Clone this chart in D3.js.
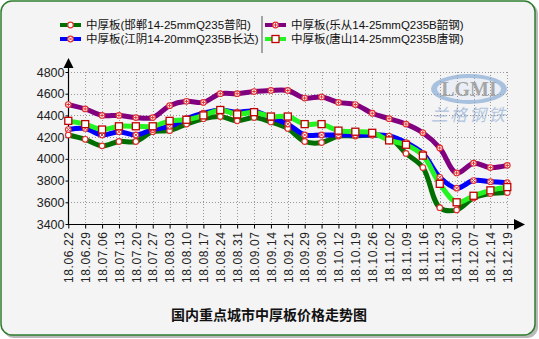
<!DOCTYPE html>
<html><head><meta charset="utf-8">
<script src="https://cdn.jsdelivr.net/npm/d3@7"></script>
<style>
html,body{margin:0;padding:0;background:#fff;}
svg{display:block;font-family:"Liberation Sans",Arial,"Noto Sans CJK SC",sans-serif;}
</style></head>
<body>
<svg id="c" width="539" height="339"></svg>
<script>
const categories = ["18.06.22","18.06.29","18.07.06","18.07.13","18.07.20","18.07.27","18.08.03","18.08.10","18.08.17","18.08.24","18.08.31","18.09.07","18.09.14","18.09.21","18.09.29","18.09.30","18.10.12","18.10.19","18.10.26","18.11.02","18.11.09","18.11.16","18.11.23","18.11.30","18.12.07","18.12.14","18.12.19"];
const handan  = [4220,4180,4120,4160,4160,4250,4260,4320,4370,4390,4350,4380,4340,4280,4160,4150,4210,4210,4220,4200,4050,3920,3550,3530,3640,3680,3690];
const jiangyin= [4270,4280,4220,4250,4220,4270,4300,4370,4420,4450,4430,4440,4380,4320,4220,4220,4220,4220,4220,4210,4150,4050,3830,3730,3800,3790,3780];
const lecong  = [4500,4460,4400,4400,4380,4380,4490,4530,4520,4600,4600,4620,4630,4630,4560,4570,4520,4500,4420,4370,4320,4240,4100,3870,3960,3920,3940];
const tangshan= [4350,4320,4270,4300,4300,4300,4350,4360,4400,4450,4410,4430,4390,4390,4320,4320,4260,4250,4240,4170,4130,4030,3770,3600,3660,3710,3740];
const yTicks = [3400,3600,3800,4000,4200,4400,4600,4800];
const seriesNames = ["中厚板(邯郸14-25mmQ235普阳)","中厚板(江阴14-20mmQ235B长达)","中厚板(乐从14-25mmQ235B韶钢)","中厚板(唐山14-25mmQ235B唐钢)"];
const title = "国内重点城市中厚板价格走势图";

const series = [
  {name:seriesNames[0], values:handan,   color:"#006e00", marker:"circle"},
  {name:seriesNames[1], values:jiangyin, color:"#0000ff", marker:"x"},
  {name:seriesNames[2], values:lecong,   color:"#800080", marker:"plus"},
  {name:seriesNames[3], values:tangshan, color:"#22f522", marker:"square"}
];

const svg = d3.select("#c");
// frame with shadow
svg.append("rect").attr("x",3).attr("y",3).attr("width",535).attr("height",335).attr("rx",11).attr("fill","#8a8a8a").attr("opacity",0.6);
svg.append("rect").attr("x",1).attr("y",1).attr("width",534).attr("height",334).attr("rx",11)
  .attr("fill","#f4f4f4").attr("stroke","#2e7d2e").attr("stroke-width",1.5);

const x = d3.scalePoint().domain(categories).range([68.3,507.3]).padding(0);
const y = d3.scaleLinear().domain([3400,4800]).range([224,72]);

// watermark
const wm = svg.append("g").attr("opacity",0.75);
wm.append("ellipse").attr("cx",469).attr("cy",89).attr("rx",38).attr("ry",15).attr("fill","#8fb0d8");
wm.append("ellipse").attr("cx",469).attr("cy",89).attr("rx",32).attr("ry",11).attr("fill","#e8eef6");
wm.append("text").attr("x",469).attr("y",96).attr("text-anchor","middle").attr("font-size",20).attr("font-weight","bold")
  .attr("fill","#8c8c8c").attr("font-family","Liberation Serif,serif").text("LGMI");
wm.append("text").attr("x",469).attr("y",121).attr("text-anchor","middle").attr("font-size",17).attr("font-style","italic")
  .attr("fill","#9ab4d8").attr("font-family","Noto Sans CJK SC").attr("letter-spacing",2).text("兰格钢铁");

// grid
const grid = svg.append("g").attr("stroke","#9a9a9a").attr("stroke-width",1).attr("stroke-dasharray","1,2");
grid.selectAll("line.h").data(yTicks.slice(1)).join("line")
  .attr("x1",68).attr("x2",x(categories[categories.length-1])).attr("y1",d=>Math.round(y(d))+0.5).attr("y2",d=>Math.round(y(d))+0.5);
grid.selectAll("line.v").data(categories.slice(1)).join("line")
  .attr("x1",d=>Math.round(x(d))+0.5).attr("x2",d=>Math.round(x(d))+0.5).attr("y1",y(4800)).attr("y2",y(3400));

// axes
const yAxis = d3.axisLeft(y).tickValues(yTicks).tickSize(3).tickPadding(1).tickFormat(d3.format("d"));
const gy = svg.append("g").attr("transform","translate(68.5,0)").call(yAxis);
gy.select(".domain").remove();
gy.selectAll("text").attr("font-size",12.5).attr("fill","#222").attr("font-family","Liberation Sans,Arial");
gy.selectAll("line").attr("stroke","#000");
svg.append("line").attr("x1",68.5).attr("x2",68.5).attr("y1",66).attr("y2",224.5).attr("stroke","#000").attr("stroke-width",1.2);
svg.append("path").attr("d","M68.5,58 L63.5,68 L73.5,68 Z").attr("fill","#000");

const xAxis = d3.axisBottom(x).tickSize(4).tickSizeOuter(0).tickPadding(3);
const gx = svg.append("g").attr("transform","translate(0,224.5)").call(xAxis);
gx.select(".domain").remove();
gx.selectAll("line").attr("stroke","#000");
gx.selectAll("text").attr("font-size",12).attr("fill","#222").attr("letter-spacing",0.6)
  .attr("text-anchor","end").attr("transform","rotate(-90)").attr("x",-7).attr("y",0).attr("dy","0.35em");
svg.append("line").attr("x1",68).attr("x2",516).attr("y1",224.5).attr("y2",224.5).attr("stroke","#000").attr("stroke-width",1.2);
svg.append("path").attr("d","M525,224.5 L514,219 L514,230 Z").attr("fill","#000");

// lines
const line = d3.line().x((d,i)=>x(categories[i])).y(d=>y(d)).curve(d3.curveCatmullRom.alpha(0.5));
const plot = svg.append("g");
series.forEach(s=>{
  plot.append("path").attr("d",line(s.values)).attr("fill","none").attr("stroke",s.color).attr("stroke-width",5).attr("stroke-linejoin","round");
});
function drawMarker(g, type, cx, cy){
  if(type==="square"){
    g.append("rect").attr("x",cx-3.5).attr("y",cy-3.5).attr("width",7).attr("height",7).attr("fill","#fff").attr("stroke","#c00000").attr("stroke-width",1.3);
  } else {
    g.append("circle").attr("cx",cx).attr("cy",cy).attr("r",2.8).attr("fill","#fff").attr("stroke","#e03030").attr("stroke-width",1.2);
    if(type==="x"){
      g.append("path").attr("d",`M${cx-1.6},${cy-1.6}L${cx+1.6},${cy+1.6}M${cx-1.6},${cy+1.6}L${cx+1.6},${cy-1.6}`).attr("stroke","#e03030").attr("stroke-width",1);
    } else if(type==="plus"){
      g.append("path").attr("d",`M${cx-1.8},${cy}L${cx+1.8},${cy}M${cx},${cy-1.8}L${cx},${cy+1.8}`).attr("stroke","#e03030").attr("stroke-width",1);
    }
  }
}
series.forEach(s=>{
  const g = plot.append("g");
  s.values.forEach((v,i)=>drawMarker(g, s.marker, x(categories[i]), y(v)));
});

// legend
const legPos = [[60,25],[60,39],[265,25],[265,39]];
series.forEach((s,i)=>{
  const [lx,ly] = legPos[i];
  svg.append("line").attr("x1",lx).attr("x2",lx+21).attr("y1",ly).attr("y2",ly).attr("stroke",s.color).attr("stroke-width",4);
  drawMarker(svg, s.marker, lx+10.5, ly);
  svg.append("text").attr("x",lx+26).attr("y",ly).attr("dy","0.36em").attr("font-size",11.5).attr("fill","#111").text(s.name);
});
svg.append("line").attr("x1",262).attr("x2",262).attr("y1",16).attr("y2",53).attr("stroke","#555").attr("stroke-width",1);

// title
svg.append("text").attr("x",269).attr("y",320).attr("text-anchor","middle").attr("font-size",14).attr("font-weight","bold")
  .attr("fill","#111").attr("font-family","Noto Sans CJK SC").text(title);
</script>
</body></html>
